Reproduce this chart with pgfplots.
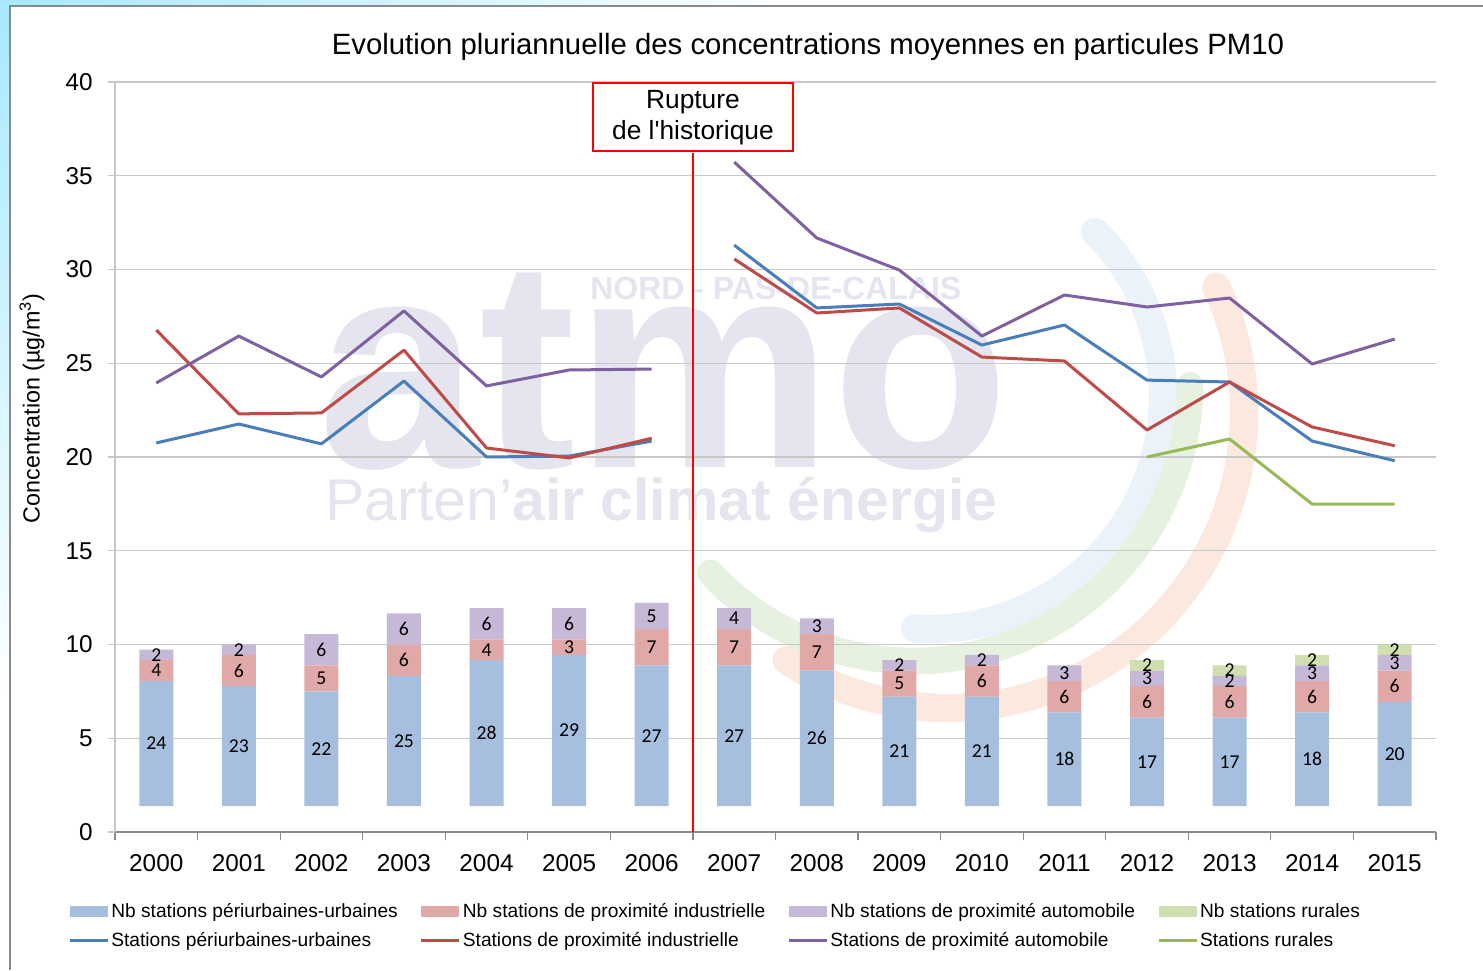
\documentclass[border=0pt]{standalone}
\usepackage{fontspec}
\setmainfont{Liberation Sans}
\newfontfamily\plainsans{Liberation Sans}
\newfontfamily\carlito{Carlito}
\usepackage{pgfplots}
\pgfplotsset{compat=1.18}

\definecolor{lblue}{HTML}{4A7EBB}
\definecolor{lred}{HTML}{BE4B48}
\definecolor{lpurple}{HTML}{7F60A0}
\definecolor{lgreen}{HTML}{98B954}
\definecolor{bblue}{HTML}{A7BFDE}
\definecolor{bred}{HTML}{E0A9A8}
\definecolor{bpurple}{HTML}{C6B9D8}
\definecolor{bgreen}{HTML}{CFDFB0}
\definecolor{gridgray}{HTML}{C8C8C8}
\definecolor{axgray}{HTML}{8A8A8A}
\definecolor{wmark}{HTML}{E4E5EE}

\pgfplotsset{
  barlegend/.style={legend image code/.code={\fill[##1, draw=none] (0pt,-3.2pt) rectangle (22.8pt,3.2pt);}},
  linelegend/.style={legend image code/.code={\draw[##1] (0pt,0pt) -- (22.8pt,0pt);}},
}

\begin{document}
\begin{tikzpicture}
% background in pixel units (1px = 0.6pt), origin at the axis corner
\begin{scope}[x=0.6pt, y=-0.6pt, shift={(-115,-832)}]
  \useasboundingbox (0,0) rectangle (1483,970);
  \shade[top color=blue!25!cyan!35, bottom color=white] (0,0) rectangle (10,700);
  \shade[left color=blue!25!cyan!35, right color=white] (0,0) rectangle (800,6);
  \draw[axgray, line width=0.8pt] (10,970) -- (10,6) -- (1483,6);
  % faint logo
  \draw[line width=17pt, line cap=round, color={rgb,255:red,235;green,242;blue,249}]
    (930,396) ++(-44.8:233) arc[start angle=-44.8, end angle=93.7, radius=233];
  \draw[line width=16pt, line cap=round, color={rgb,255:red,231;green,241;blue,224}]
    (913,384) ++(137:277) arc[start angle=137, end angle=0.3, radius=277];
  \draw[line width=17pt, line cap=round, color={rgb,255:red,251;green,233;blue,224}]
    (948,412) ++(-25:296) arc[start angle=-25, end angle=123, radius=296];
  \node[anchor=base west, inner sep=0, text=wmark] at (318,468)
    {\scalebox{0.97}[1]{\fontsize{179}{179}\selectfont\bfseries atmo}};
  \node[anchor=base west, inner sep=0, text=wmark] at (590,300)
    {\fontsize{19.2}{19.2}\selectfont\bfseries NORD - PAS-DE-CALAIS};
  \node[anchor=base west, inner sep=0, text=wmark] at (325,521)
    {\fontsize{35.4}{35.4}\selectfont Parten’\textbf{air climat énergie}};
\end{scope}

\begin{axis}[
  at={(0,0)}, anchor=south west,
  width=792.6pt, height=450pt, scale only axis,
  xmin=-0.5, xmax=15.5, ymin=0, ymax=40,
  axis x line*=bottom, axis y line*=left,
  x axis line style={axgray, line width=0.7pt},
  y axis line style={gridgray, line width=0.7pt},
  xtick={0,...,15},
  xticklabels={2000,2001,2002,2003,2004,2005,2006,2007,2008,2009,2010,2011,2012,2013,2014,2015},
  minor xtick={-0.5,0.5,...,15.5},
  major x tick style={draw=none},
  minor x tick style={axgray, line width=0.7pt},
  y tick style={gridgray, line width=0.7pt},
  tick align=outside,
  major tick length=4.2pt, minor tick length=4.8pt,
  ytick={0,5,...,40},
  ymajorgrids, grid style={gridgray, line width=0.7pt},
  tick label style={font=\fontsize{14.6}{16}\selectfont},
  /pgf/number format/assume math mode=true,
  xticklabel style={yshift=-6pt},
  yticklabel style={xshift=-5.6pt},
  title={Evolution pluriannuelle des concentrations moyennes en particules PM10},
  title style={at={(axis description cs:0.5246,1.033)}, anchor=center,
               font=\fontsize{17.6}{19}\selectfont},
  ylabel={Concentration (µg/m\textsuperscript{3})},
  ylabel style={at={(axis description cs:-0.0628,0.565)}, anchor=center,
                font=\fontsize{14}{16}\selectfont},
  unbounded coords=jump,
  clip=false,
  legend columns=4,
  legend cell align=left,
  legend style={at={(axis description cs:-0.0356,-0.092)}, anchor=north west,
                draw=none, fill=none, inner sep=0pt,
                font=\fontsize{11.5}{13}\selectfont,
                nodes={inner sep=1.2pt},
                row sep=5.2pt,
                /tikz/every even column/.append style={column sep=12pt}},
]
\addlegendimage{barlegend, fill=bblue}
\addlegendentry{Nb stations périurbaines-urbaines}
\addlegendimage{barlegend, fill=bred}
\addlegendentry{Nb stations de proximité industrielle}
\addlegendimage{barlegend, fill=bpurple}
\addlegendentry{Nb stations de proximité automobile}
\addlegendimage{barlegend, fill=bgreen}
\addlegendentry{Nb stations rurales}

\addplot[lblue, line width=1.8pt, line join=round, linelegend] coordinates {
  (0,20.75) (1,21.76) (2,20.70) (3,24.05) (4,20.00) (5,20.05) (6,20.85) (6.5,nan)
  (7,31.30) (8,27.95) (9,28.16) (10,25.97) (11,27.04) (12,24.10) (13,24.00) (14,20.85) (15,19.80)
};
\addlegendentry{Stations périurbaines-urbaines}
\addplot[lred, line width=1.8pt, line join=round, linelegend] coordinates {
  (0,26.77) (1,22.30) (2,22.35) (3,25.70) (4,20.48) (5,19.95) (6,21.00) (6.5,nan)
  (7,30.56) (8,27.68) (9,27.95) (10,25.33) (11,25.12) (12,21.44) (13,24.00) (14,21.60) (15,20.60)
};
\addlegendentry{Stations de proximité industrielle}
\addplot[lpurple, line width=1.8pt, line join=round, linelegend] coordinates {
  (0,23.95) (1,26.45) (2,24.27) (3,27.79) (4,23.79) (5,24.64) (6,24.69) (6.5,nan)
  (7,35.73) (8,31.68) (9,29.97) (10,26.45) (11,28.64) (12,28.00) (13,28.48) (14,24.96) (15,26.29)
};
\addlegendentry{Stations de proximité automobile}
\addplot[lgreen, line width=1.8pt, line join=round, linelegend] coordinates {
  (12,20.00) (13,20.96) (14,17.49) (15,17.49)
};
\addlegendentry{Stations rurales}

% break in the series
\draw[red, line width=1.6pt] (axis cs:6.5,0) -- (axis cs:6.5,36.2);
\node[draw=red, line width=1.5pt, fill=white, anchor=north, align=center,
      minimum width=120pt, minimum height=40.8pt, inner sep=0pt,
      font=\fontsize{15.8}{18.6}\selectfont] at (axis cs:6.5,40)
  {Rupture\\de l{\plainsans'}historique};
\end{axis}

% station counts, drawn on a hidden axis scaled so that 0 stations sits at y = 1.38
\begin{axis}[
  at={(0,0)}, anchor=south west,
  width=792.6pt, height=450pt, scale only axis,
  xmin=-0.5, xmax=15.5, ymin=-4.964, ymax=138.92,
  hide axis,
  ybar stacked, bar width=20.4pt,
  /pgf/number format/assume math mode=true,
  visualization depends on={rawy \as \rawy},
  nodes near coords={\ifdim\rawy pt>0pt\pgfmathprintnumber{\rawy}\fi},
  every node near coord/.append style={anchor=center, inner sep=0pt,
      font=\carlito\fontsize{11.8}{12}\selectfont, text=black},
]
\addplot[fill=bblue, draw=none] coordinates {
  (0,24) (1,23) (2,22) (3,25) (4,28) (5,29) (6,27) (7,27)
  (8,26) (9,21) (10,21) (11,18) (12,17) (13,17) (14,18) (15,20)
};
\addplot[fill=bred, draw=none] coordinates {
  (0,4) (1,6) (2,5) (3,6) (4,4) (5,3) (6,7) (7,7)
  (8,7) (9,5) (10,6) (11,6) (12,6) (13,6) (14,6) (15,6)
};
\addplot[fill=bpurple, draw=none] coordinates {
  (0,2) (1,2) (2,6) (3,6) (4,6) (5,6) (6,5) (7,4)
  (8,3) (9,2) (10,2) (11,3) (12,3) (13,2) (14,3) (15,3)
};
\addplot[fill=bgreen, draw=none] coordinates {
  (0,0) (1,0) (2,0) (3,0) (4,0) (5,0) (6,0) (7,0)
  (8,0) (9,0) (10,0) (11,0) (12,2) (13,2) (14,2) (15,2)
};
\end{axis}
\end{tikzpicture}
\end{document}
